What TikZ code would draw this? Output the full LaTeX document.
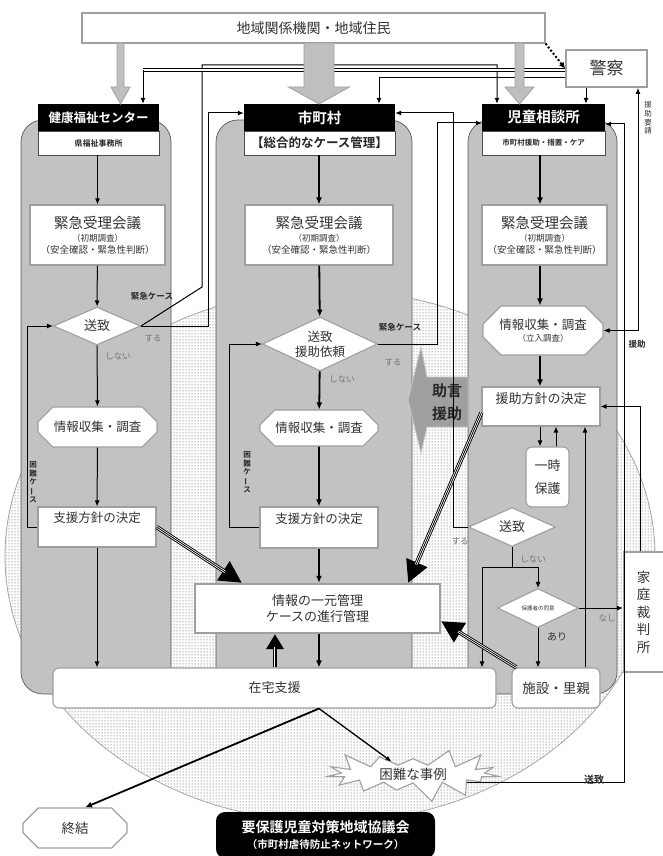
\documentclass[tikz,border=0pt]{standalone}
\usepackage{fontspec}
\setmainfont{Noto Sans CJK JP}[BoldFont={* Bold}]
\usetikzlibrary{arrows.meta,shapes.geometric,shapes.misc,shapes.symbols,patterns,calc}
\newcommand\fsz[2]{\fontsize{#1}{#2}\selectfont}
\newcommand\vbar{\rotatebox[origin=c]{90}{ー}}
\newcommand\emtext{{\fsz{14.5}{17}緊急受理会議}\\[1pt]{\fsz{8.5}{11}（初期調査）}\\{\fsz{9.5}{11}（安全確認・緊急性判断）}}

\begin{document}
\begin{tikzpicture}[
  x=1pt, y=-1pt,
  box/.style={draw=gray!75, line width=1.1pt, fill=white, align=center, inner sep=0pt, text=black!80},
  hdrbox/.style={fill=black, text=white, inner sep=0pt, minimum height=27pt, font=\bfseries\fsz{14.5}{16}},
  subbox/.style={draw=black!70, line width=0.6pt, fill=white, inner sep=0pt, minimum height=24pt, text=black!85},
  octbox/.style={box, chamfered rectangle, chamfered rectangle xsep=9pt, chamfered rectangle ysep=9pt},
  decide/.style={box, diamond, aspect=2.2},
  softbox/.style={box, rounded corners=6pt},
  colbody/.style={draw=black!65, line width=0.7pt, fill=gray!48, rounded corners=22pt},
  arr/.style={-{Latex[length=6pt,width=5pt]}, line width=1pt},
  arrthick/.style={-{Latex[length=7pt,width=6pt]}, line width=1.8pt},
  triarr/.style={line width=4.2pt, -{Triangle[length=22pt,width=22pt]},
    postaction={draw=white, line width=2.4pt, shorten >=20pt, -},
    postaction={draw=black, line width=0.8pt, shorten >=20pt, -}},
  trismall/.style={line width=3.6pt, -{Triangle[length=15pt,width=17pt]},
    postaction={draw=white, line width=2pt, shorten >=13pt, -},
    postaction={draw=black, line width=0.7pt, shorten >=13pt, -}},
  lbl/.style={font=\fsz{8.5}{10}, text=black!55, inner sep=1pt},
  blbl/.style={font=\bfseries\fsz{8.5}{10}, text=black!85, inner sep=1pt},
]
\useasboundingbox (0,0) rectangle (663,856);
\fill[white] (0,0) rectangle (663,856);

%% network area
\fill[white] (330,556) ellipse [x radius=325, y radius=266];
\fill[pattern=dots, pattern color=black!75] (330,556) ellipse [x radius=325, y radius=266];
\draw[gray!70, line width=0.8pt] (330,556) ellipse [x radius=325, y radius=266];

%% columns
\draw[colbody] (21,120) rectangle (171,694);
\draw[colbody] (216,120) rectangle (412,700);
\draw[colbody] (468,120) rectangle (617,694);

%% top boxes
\node[box, minimum width=463pt, minimum height=30pt, font=\fsz{14}{16}] (area) at (313.5,28) {地域関係機関・地域住民};
\node[box, line width=1.8pt, minimum width=81pt, minimum height=37pt, font=\fsz{17}{19}] (police) at (606.5,68.5) {警察};

%% headers
\node[hdrbox, minimum width=121pt, font=\bfseries\fsz{12.5}{14}] (hdrL) at (98.5,117.5) {健康福祉センター};
\node[hdrbox, minimum width=151pt] (hdrM) at (319.5,117.5) {市町村};
\node[hdrbox, minimum width=123pt] (hdrR) at (543.5,117.5) {児童相談所};
\node[subbox, minimum width=121pt, font=\bfseries\fsz{8}{9}] (subL) at (98.5,143) {県福祉事務所};
\node[subbox, minimum width=151pt, font=\bfseries\fsz{12.5}{14}] (subM) at (319.5,143) {【総合的なケース管理】};
\node[subbox, minimum width=123pt, font=\bfseries\fsz{7.5}{9}] (subR) at (543.5,143) {市町村援助・措置・ケア};

%% emergency meetings
\node[box, minimum width=135pt, minimum height=60pt] (emL) at (97.5,235) {\emtext};
\node[box, minimum width=148pt, minimum height=60pt] (emM) at (319,235) {\emtext};
\node[box, minimum width=125pt, minimum height=60pt] (emR) at (544.5,235) {\emtext};

%% decisions
\node[decide, minimum width=87pt, minimum height=38pt, font=\fsz{13}{15}] (dL) at (97,326) {送致};
\node[decide, minimum width=115pt, minimum height=54pt, font=\fsz{12.5}{15}] (dM) at (320,344) {送致\\援助依頼};
\node[decide, minimum width=87pt, minimum height=39pt, font=\fsz{13}{15}] (dR) at (512,527) {送致};
\node[decide, minimum width=81pt, minimum height=39pt, font=\fsz{5.5}{6}] (dC) at (538,608) {保護者の同意};

%% investigation
\node[octbox, minimum width=119pt, minimum height=40pt, font=\fsz{12.5}{14}] (oL) at (97.5,427) {情報収集・調査};
\node[octbox, minimum width=118pt, minimum height=36pt, font=\fsz{12.5}{14}] (oM) at (319,428) {情報収集・調査};
\node[octbox, minimum width=120pt, minimum height=49pt] (oR) at (543,330.5) {{\fsz{12.5}{14}情報収集・調査}\\{\fsz{8.5}{11}（立入調査）}};

%% plans
\node[box, minimum width=118pt, minimum height=40pt, text height=11pt, text depth=20pt, font=\fsz{12.5}{14}] (pL) at (97,527) {支援方針の決定};
\node[box, minimum width=118pt, minimum height=41pt, text height=11pt, text depth=20pt, font=\fsz{12.5}{14}] (pM) at (319,527.5) {支援方針の決定};
\node[box, minimum width=118pt, minimum height=39pt, text height=11pt, text depth=18pt, font=\fsz{13}{15}] (aR) at (541,406.5) {援助方針の決定};
\node[softbox, minimum width=43pt, minimum height=60pt, font=\fsz{13}{23}] (ichiji) at (547.5,477) {一時\\保護};

%% management
\node[box, line width=2.4pt, minimum width=245pt, minimum height=49pt, font=\fsz{13}{16}] (info) at (317.5,608.5) {情報の一元管理\\ケースの進行管理};
\node[softbox, minimum width=443pt, minimum height=40pt, font=\fsz{13}{15}] (home) at (274.5,688) {在宅支援};
\node[softbox, minimum width=88pt, minimum height=40pt, font=\fsz{13.5}{15}] (foster) at (556,688) {施設・里親};
\node[box, minimum width=40pt, minimum height=120pt, font=\fsz{13.5}{17.5}] (court) at (643.5,612) {家\\庭\\裁\\判\\所};
\node[box, starburst, starburst points=15, starburst point height=20pt, random starburst=3,
      minimum width=184pt, minimum height=58pt, font=\fsz{13.5}{15}] (hard) at (413,774) {困難な事例};
\node[octbox, minimum width=104pt, minimum height=40pt, font=\fsz{13.5}{15}] (closure) at (75,828) {終結};
\node[fill=black, rounded corners=9pt, minimum width=219pt, minimum height=46pt, text=white, align=center,
      font=\bfseries\fsz{14}{16}] (council) at (325.5,835) {要保護児童対策地域協議会\\{\fsz{10.5}{16}（市町村虐待防止ネットワーク）}};

%% advice arrow
\filldraw[fill=gray!75, draw=gray!45, line width=0.8pt]
  (468,377) -- (427,377) -- (421,347) -- (408,400) -- (421,453) -- (427,427) -- (468,427) -- cycle;
\node[font=\bfseries\fsz{15}{23}, align=center, text=black!85] (advice) at (447,402) {助言\\援助};

%% left column flow
\draw[arr] (subL.south -| emL.north) -- (emL.north);
\draw[arr] (emL) -- (dL);
\draw[arr] (dL) -- (oL);
\draw[arr] (oL) -- (pL);
\draw[arr] (pL) -- (pL.south |- home.north);
\draw[arr] (pL.west) -- ++(-10,0) |- (dL.west);
\draw[arr] (dL.east) -- (208,326) |- (hdrM.west |- 0,113);
\draw[arr] (dL.east) -- (202,287) |- (497,65) -- (hdrR.north -| 497,0);

%% middle column flow
\draw[arrthick] (subM.south -| emM.north) -- (emM.north);
\draw[arrthick] (emM) -- (dM);
\draw[arrthick] (dM) -- (oM);
\draw[arrthick] (oM) -- (pM);
\draw[arrthick] (pM) -- (pM.south |- info.north);
\draw[arrthick] (info.south -| 319,0) -- (home.north -| 319,0);
\draw[arr] (pM.west) -- ++(-30,0) |- (dM.west);
\draw[arr] (dM.east) -- (437,344) |- (hdrR.west |- 0,123);

%% right column flow
\draw[arrthick] (subR.south -| 540,0) -- (emR.north -| 540,0);
\draw[arrthick] (emR.south -| 540,0) -- (oR.north -| 540,0);
\draw[arrthick] (oR.south -| 540,0) -- (aR.north -| 540,0);
\draw[arr] (aR.south -| 540,0) -- (ichiji.north -| 540,0);
\draw[arr] (ichiji.north -| 556,0) -- (aR.south -| 556,0);
\draw[arr] (dR.west) -- (453,527) |- (hdrM.east |- 0,113);
\coordinate (split) at (dR.south |- 0,567);
\draw[line width=1pt] (dR.south) -- (split);
\draw[arr] (split) -| (home.north -| 482,0);
\draw[arr] (split) -| (dC.north);
\draw[arr] (dC.east) -- (court.west |- dC.east);
\draw[arr] (dC.south) -- (foster.north -| dC.south);
\draw[arr] (foster.north -| 585,0) -- (aR.south -| 585,0);

%% police and court
\coordinate (polL) at (143,70);
\draw[line width=0.5pt, double, double distance=2.2pt] (police.west |- polL) -- (polL);
\draw[arr] (polL) -- (hdrL.north -| polL);
\draw[arr] (police.west |- 0,78) -| (hdrM.north -| 379,0);
\draw[arr] (police.south -| 586,0) -- (hdrR.north -| 586,0);
\draw[line width=2pt, dotted, -{Latex[length=6pt,width=6pt]}] (area.south east) -- (police.west);
\draw[{Latex[length=6pt,width=5pt]}-{Latex[length=6pt,width=5pt]}, line width=1pt] (police.south -| 638,0) |- (oR.east);
\draw[arr] (court.north -| 640,0) |- (aR.east);
\draw[arr] (hard.-9) -| (624,124) -- (hdrR.east |- 0,124);

%% shared management
\draw[triarr] (pL.east) -- ($(info.north west)+(48,0)$);
\draw[triarr] ($(aR.west)+(0,6)$) -- ($(info.north east)+(-33,0)$);
\draw[triarr] ($(foster.north west)+(5,0)$) -- ($(info.south east)+(0,-13)$);
\draw[trismall] (home.north -| 275,0) -- (info.south -| 275,0);
\coordinate (homeOut) at (home.south -| 319,0);
\draw[arrthick] (homeOut) -- (closure.north -| 85,0);
\draw[arr, line width=1.3pt] (homeOut) -- (hard.150);

%% labels
\node[blbl] (lEmL) at (152,296) {緊急ケース};
\node[lbl] (lYesL) at (153,338) {する};
\node[lbl] (lNoL) at (118,356) {しない};
\node[blbl, align=center, font=\bfseries\fsz{7.5}{8.6}] (lHardL) at (33,482) {困\\難\\ケ\\\vbar\\ス};
\node[blbl] (lEmM) at (400,327) {緊急ケース};
\node[lbl] (lYesM) at (393,362) {する};
\node[lbl] (lNoM) at (342,379) {しない};
\node[blbl, align=center, font=\bfseries\fsz{7.5}{8.6}] (lHardM) at (247,472) {困\\難\\ケ\\\vbar\\ス};
\node[lbl] (lYesR) at (460,541) {する};
\node[lbl] (lNoR) at (533,559) {しない};
\node[lbl] (lNone) at (607,618) {なし};
\node[lbl, text=black!80, font=\fsz{10}{12}] (lAgree) at (557,637) {あり};
\node[blbl] (lHelp) at (637,344) {援助};
\node[lbl, text=black!80, align=center, font=\fsz{7.5}{8.6}] (lReq) at (648,118) {援\\助\\要\\請};
\node[blbl, font=\bfseries\fsz{10}{12}] (lSend) at (594,780) {送致};

%% flows from outside
\foreach \x/\s/\h in {120.5/3.5/9.5, 319/15/30.5, 519.5/4.5/14.5}
  \filldraw[fill=gray!50, draw=gray!75, line width=0.8pt]
    ({\x-\s},43) -- ({\x-\s},87) -- ({\x-\h},87) -- (\x,104) -- ({\x+\h},87) -- ({\x+\s},87) -- ({\x+\s},43) -- cycle;
\end{tikzpicture}
\end{document}
